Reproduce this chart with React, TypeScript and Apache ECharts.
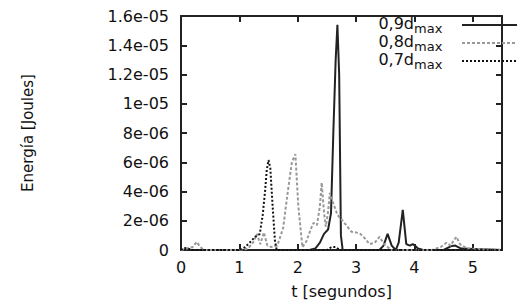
import React, { useEffect, useRef } from "react";
import * as echarts from "echarts";

// time in seconds, energy in units of 1e-6 J
const t90 = [0, 2.2, 2.3, 2.38, 2.45, 2.52, 2.57, 2.61, 2.65, 2.68, 2.71, 2.74, 2.77, 3.4, 3.47, 3.54, 3.61, 3.68, 3.73, 3.8, 3.86, 3.92, 3.97, 4.01, 4.06, 4.15, 4.5, 4.62, 4.7, 4.8, 5.5];
const e90 = [0, 0, 0.1, 0.5, 1.1, 1.4, 2.5, 8, 13, 15.4, 12, 1, 0, 0, 0.3, 1.1, 0.3, 0, 0.5, 2.75, 0.4, 0.3, 0.4, 0.3, 0.1, 0, 0, 0.25, 0.3, 0.1, 0];

const t80 = [0, 0.1, 0.2, 0.27, 0.33, 0.4, 1.0, 1.15, 1.25, 1.3, 1.36, 1.42, 1.48, 1.55, 1.65, 1.75, 1.83, 1.9, 1.96, 2.01, 2.08, 2.15, 2.22, 2.27, 2.33, 2.38, 2.41, 2.45, 2.48, 2.52, 2.55, 2.6, 2.68, 2.77, 2.85, 2.92, 3.06, 3.15, 3.23, 3.32, 3.4, 3.48, 3.6, 4.3, 4.45, 4.55, 4.62, 4.68, 4.72, 4.78, 4.9, 5.5];
const e80 = [0, 0.1, 0.2, 0.55, 0.2, 0, 0, 0.1, 0.6, 1.1, 0.4, 1.2, 0.3, 0.2, 0.3, 1.5, 4, 6, 6.55, 3, 0.2, 0.6, 1.4, 1.85, 1.7, 3, 4.6, 2.6, 1.6, 2.6, 3.9, 3.3, 2.4, 2.0, 1.6, 1.25, 1.15, 0.8, 0.4, 0.5, 0.9, 0.4, 0, 0, 0.2, 0.5, 0.3, 0.7, 0.9, 0.4, 0.1, 0];

const t70 = [0, 0.05, 0.12, 0.2, 1.0, 1.1, 1.2, 1.27, 1.35, 1.4, 1.44, 1.47, 1.5, 1.53, 1.57, 1.61, 1.64, 2.5, 2.58, 2.65, 2.72, 5.5];
const e70 = [0, 0.15, 0.1, 0, 0, 0.2, 0.6, 0.9, 1.1, 2.4, 4.0, 5.5, 6.15, 5.6, 3.0, 0.6, 0, 0, 0.2, 0.2, 0, 0];

const xTicks = [0, 1, 2, 3, 4, 5];
const legendNames = ["0,9d", "0,8d", "0,7d"];

const FONT = "DejaVu Sans";

function fmtY(v: number): string {
  if (v === 0) return "0";
  const real = v * 1e-6;
  const exp = Math.floor(Math.log10(real) + 1e-9);
  const m = Math.round((real / Math.pow(10, exp)) * 10) / 10;
  const e = -exp;
  return `${m}e-${e < 10 ? "0" + e : e}`;
}

export default function App() {
  const ref = useRef<HTMLDivElement>(null);
  useEffect(() => {
    const chart = echarts.init(ref.current!, null, { renderer: "svg" });
    const zip = (t: number[], e: number[]) => t.map((x, i) => [x, e[i]]);
    const mkLine = () => ({ show: true, onZero: false, lineStyle: { color: "#222", width: 2 } });
    const mkTick = () => ({ show: true, inside: true, length: 6, lineStyle: { color: "#222", width: 2 } });
    const legendY = [25, 43, 61];
    const titles: any[] = [];
    legendNames.forEach((n, i) => {
      titles.push({
        text: n,
        right: 517 - 414,
        top: legendY[i] - 10,
        padding: 0,
        textStyle: { fontFamily: FONT, fontSize: 16, fontWeight: "normal", color: "#111" },
      });
      titles.push({
        text: "max",
        left: 414,
        top: legendY[i] - 3,
        padding: 0,
        textStyle: { fontFamily: FONT, fontSize: 13, fontWeight: "normal", color: "#111" },
      });
    });
    const legendMark = (i: number) => ({
      symbol: "none",
      silent: true,
      animation: false,
      label: { show: false },
      data: [[{ x: 462, y: legendY[i] }, { x: 517, y: legendY[i] }]],
    });
    chart.setOption({
      animation: false,
      title: titles,
      grid: { left: 181, right: 15, top: 16, bottom: 51, outerBoundsMode: "none" },
      xAxis: [
        {
          type: "value",
          min: 0,
          max: 5.5,
          interval: 1,
          name: "t [segundos]",
          nameLocation: "middle",
          nameGap: 33,
          nameTextStyle: { fontFamily: FONT, fontSize: 16, color: "#111" },
          axisLine: mkLine(),
          axisTick: mkTick(),
          splitLine: { show: false },
          axisLabel: {
            fontFamily: FONT,
            fontSize: 16,
            color: "#111",
            margin: 9,
            showMaxLabel: false,
            formatter: (v: number) => (xTicks.includes(v) ? String(v) : ""),
          },
        },
        {
          type: "value",
          position: "top",
          min: 0,
          max: 5.5,
          interval: 1,
          axisLine: mkLine(),
          axisTick: mkTick(),
          axisLabel: { show: false },
          splitLine: { show: false },
        },
      ],
      yAxis: [
        {
          type: "value",
          min: 0,
          max: 16,
          interval: 2,
          name: "Energía [Joules]",
          nameLocation: "middle",
          nameGap: 146,
          nameRotate: 90,
          nameTextStyle: { fontFamily: FONT, fontSize: 15, color: "#111" },
          axisLine: mkLine(),
          axisTick: mkTick(),
          splitLine: { show: false },
          axisLabel: { fontFamily: FONT, fontSize: 16, color: "#111", margin: 12, formatter: fmtY },
        },
        {
          type: "value",
          position: "right",
          min: 0,
          max: 16,
          interval: 2,
          axisLine: mkLine(),
          axisTick: mkTick(),
          axisLabel: { show: false },
          splitLine: { show: false },
        },
      ],
      series: [
        {
          type: "line",
          name: "0,9dmax",
          data: zip(t90, e90),
          showSymbol: false,
          lineStyle: { color: "#222", width: 2 },
          markLine: { ...legendMark(0), lineStyle: { color: "#222", width: 2, type: "solid" } },
        },
        {
          type: "line",
          name: "0,8dmax",
          data: zip(t80, e80),
          showSymbol: false,
          lineStyle: { color: "#999", width: 2, type: [3, 2] },
          markLine: { ...legendMark(1), lineStyle: { color: "#999", width: 2, type: [3, 2] } },
        },
        {
          type: "line",
          name: "0,7dmax",
          data: zip(t70, e70),
          showSymbol: false,
          lineStyle: { color: "#111", width: 2, type: [2, 2] },
          markLine: { ...legendMark(2), lineStyle: { color: "#111", width: 2, type: [2, 2] } },
        },
      ],
    });
    return () => chart.dispose();
  }, []);
  return <div ref={ref} style={{ width: 517, height: 301, position: "absolute", left: 0, top: 0 }} />;
}
